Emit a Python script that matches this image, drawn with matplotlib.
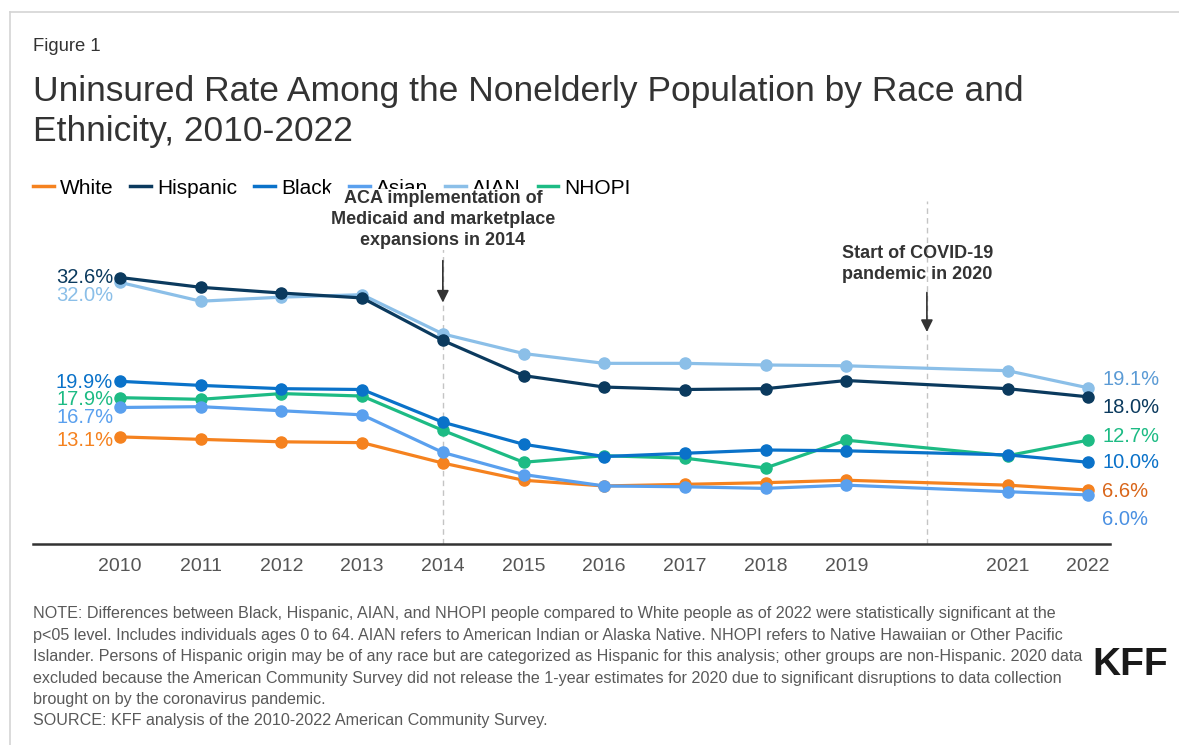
"""Uninsured rate among the nonelderly population by race and ethnicity, 2010-2022."""

import matplotlib

matplotlib.use("Agg")
import matplotlib.pyplot as plt
from matplotlib.lines import Line2D

plt.rcParams["font.family"] = ["Liberation Sans", "DejaVu Sans"]

# Survey years (2020 not released by ACS)
years = [2010, 2011, 2012, 2013, 2014, 2015, 2016, 2017, 2018, 2019, 2021, 2022]
tick_labels = [str(y) for y in years]

# Uninsured rate, percent
white = [13.1, 12.8, 12.5, 12.4, 9.9, 7.8, 7.1, 7.3, 7.5, 7.8, 7.2, 6.6]
hispanic = [32.6, 31.4, 30.7, 30.1, 24.9, 20.6, 19.2, 18.9, 19.0, 20.0, 19.0, 18.0]
black = [19.9, 19.4, 19.0, 18.9, 14.9, 12.2, 10.7, 11.1, 11.5, 11.4, 10.9, 10.0]
asian = [16.7, 16.8, 16.3, 15.8, 11.2, 8.5, 7.1, 7.0, 6.8, 7.2, 6.4, 6.0]
aian = [32.0, 29.7, 30.2, 30.5, 25.7, 23.3, 22.1, 22.1, 21.9, 21.8, 21.2, 19.1]
nhopi = [17.9, 17.7, 18.4, 18.1, 13.9, 10.0, 10.8, 10.5, 9.3, 12.7, 10.8, 12.7]

# Annotated events
event_years = [2014, 2020]
event_texts = [
    "ACA implementation of\nMedicaid and marketplace\nexpansions in 2014",
    "Start of COVID-19\npandemic in 2020",
]

# name: (values, line colour, label colour, start label offset px, end label offset px)
series = {
    "AIAN": (aian, "#8bbfe8", "#5b9bd5", -13, 8),
    "Hispanic": (hispanic, "#0b3a5e", "#0b3a5e", 0, -11),
    "White": (white, "#f5821f", "#d9661a", -4, -1),
    "NHOPI": (nhopi, "#1dbb84", "#1dbb84", -2, 4),
    "Black": (black, "#0a72c9", "#0a72c9", -1, 0),
    "Asian": (asian, "#5aa0ee", "#4a90e2", -10, -25),
}
start_label_colours = {"AIAN": "#8bbfe8", "White": "#f5821f", "Asian": "#5aa0ee"}
legend_order = ["White", "Hispanic", "Black", "Asian", "AIAN", "NHOPI"]

fig = plt.figure(figsize=(11.79, 7.45), dpi=100)
ax = fig.add_axes([0.028, 0.2698, 0.9135, 0.4389])

for name, (values, colour, label_colour, start_dy, end_dy) in series.items():
    ax.plot(years, values, color=colour, lw=2.3, marker="o", ms=8, zorder=3,
            solid_capstyle="round")
    ax.annotate(f"{values[0]:.1f}%", (years[0], values[0]), xytext=(-7, start_dy),
                textcoords="offset pixels", ha="right", va="center", fontsize=14.5,
                color=start_label_colours.get(name, label_colour))
    ax.annotate(f"{values[-1]:.1f}%", (years[-1], values[-1]), xytext=(14, end_dy),
                textcoords="offset pixels", ha="left", va="center", fontsize=14.5,
                color=label_colour)

# Event markers: dashed guide, arrow, label
for yr in event_years:
    ax.plot([yr, yr], [0, 42], color="#c4c4c4", lw=1, ls=(0, (4, 3)), zorder=1,
            clip_on=False)
ax.annotate("", xy=(2014, 29.2), xytext=(2014, 35.0),
            arrowprops=dict(arrowstyle="-|>", color="#333333", lw=1.2,
                            mutation_scale=18), zorder=4)
ax.annotate("", xy=(2020, 25.6), xytext=(2020, 31.1),
            arrowprops=dict(arrowstyle="-|>", color="#333333", lw=1.2,
                            mutation_scale=18), zorder=4)
ax.text(2014, 39.7, event_texts[0], ha="center", va="center", fontsize=13,
        fontweight="bold", color="#333333", linespacing=1.32, zorder=10,
        bbox=dict(facecolor="white", edgecolor="none", pad=0.5))
ax.text(2019.88, 34.2, event_texts[1], ha="center", va="center", fontsize=13,
        fontweight="bold", color="#333333", linespacing=1.3, zorder=10)

ax.set_xlim(2008.92, 2022.27)
ax.set_ylim(0, 40)
ax.set_xticks(years)
ax.set_xticklabels(tick_labels)
ax.tick_params(axis="x", length=0, pad=10, labelsize=14, labelcolor="#555555")
ax.set_yticks([])
for side in ["left", "right", "top"]:
    ax.spines[side].set_visible(False)
ax.spines["bottom"].set_color("#333333")
ax.spines["bottom"].set_linewidth(1.8)

handles = [Line2D([], [], color=series[n][1], lw=2.5) for n in legend_order]
ax.legend(handles, legend_order, loc="center left", bbox_to_anchor=(0.0, 1.088),
          ncol=6, frameon=False, fontsize=15, handlelength=1.0,
          handletextpad=0.3, columnspacing=0.8, borderaxespad=0, borderpad=0)

# Titles
fig.text(0.028, 0.937, "Figure 1", fontsize=13.3, color="#333333", va="center")
fig.text(0.028, 0.850, "Uninsured Rate Among the Nonelderly Population by Race and\n"
         "Ethnicity, 2010-2022", fontsize=25.5, color="#333333", va="center",
         linespacing=1.27)

note = ("NOTE: Differences between Black, Hispanic, AIAN, and NHOPI people compared to White people as of 2022 were statistically significant at the\n"
        "p<05 level. Includes individuals ages 0 to 64. AIAN refers to American Indian or Alaska Native. NHOPI refers to Native Hawaiian or Other Pacific\n"
        "Islander. Persons of Hispanic origin may be of any race but are categorized as Hispanic for this analysis; other groups are non-Hispanic. 2020 data\n"
        "excluded because the American Community Survey did not release the 1-year estimates for 2020 due to significant disruptions to data collection\n"
        "brought on by the coronavirus pandemic.\n"
        "SOURCE: KFF analysis of the 2010-2022 American Community Survey.")
fig.text(0.028, 0.186, note, fontsize=11.6, color="#595959", va="top", linespacing=1.53)

fig.text(0.991, 0.107, "KFF", fontsize=28, fontweight="bold", color="#1a1a1a",
         ha="right", va="center", family=["Liberation Sans Narrow", "Liberation Sans"])

# Light frame along top and left edges
fig.add_artist(Line2D([0.0085, 1.0], [0.984, 0.984], color="#d4d4d4", lw=1.2))
fig.add_artist(Line2D([0.0085, 0.0085], [0.0, 0.984], color="#d4d4d4", lw=1.2))

fig.savefig("out.png", dpi=100)
